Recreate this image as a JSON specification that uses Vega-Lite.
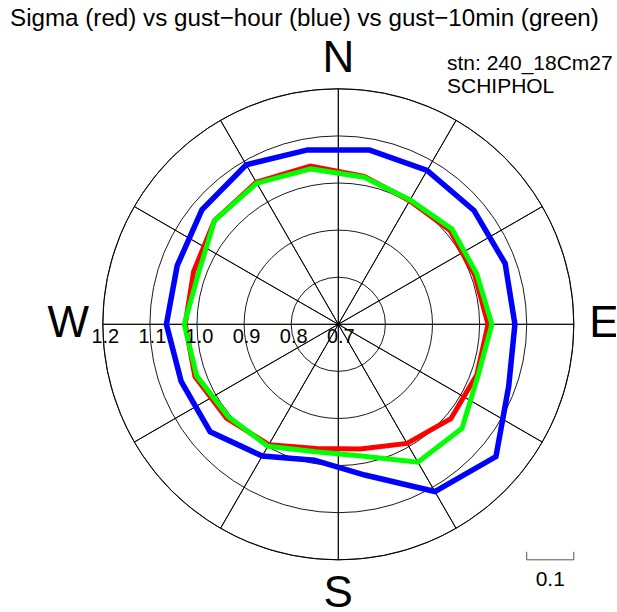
{
  "$schema": "https://vega.github.io/schema/vega-lite/v6.json",
  "width": 556,
  "height": 574,
  "autosize": {"type": "none"},
  "padding": {"left": 60.3, "top": 37.3, "right": 0, "bottom": 0},
  "background": "white",
  "config": {"view": {"stroke": null}, "font": "Liberation Sans"},
  "datasets": {
    "rose": [
      {"dir": 10, "sigma": 1.019, "hour": 1.076, "tenmin": 1.017},
      {"dir": 30, "sigma": 1.003, "hour": 1.077, "tenmin": 1.005},
      {"dir": 50, "sigma": 1.010, "hour": 1.076, "tenmin": 1.015},
      {"dir": 70, "sigma": 1.008, "hour": 1.077, "tenmin": 1.013},
      {"dir": 90, "sigma": 1.018, "hour": 1.075, "tenmin": 1.026},
      {"dir": 110, "sigma": 1.013, "hour": 1.085, "tenmin": 1.016},
      {"dir": 130, "sigma": 1.012, "hour": 1.137, "tenmin": 1.043},
      {"dir": 150, "sigma": 0.992, "hour": 1.110, "tenmin": 1.038},
      {"dir": 170, "sigma": 0.969, "hour": 1.025, "tenmin": 0.984},
      {"dir": 190, "sigma": 0.968, "hour": 0.993, "tenmin": 0.975},
      {"dir": 210, "sigma": 0.995, "hour": 1.023, "tenmin": 0.999},
      {"dir": 230, "sigma": 1.010, "hour": 1.055, "tenmin": 1.005},
      {"dir": 250, "sigma": 1.024, "hour": 1.055, "tenmin": 1.020},
      {"dir": 270, "sigma": 1.025, "hour": 1.065, "tenmin": 1.027},
      {"dir": 290, "sigma": 1.027, "hour": 1.064, "tenmin": 1.016},
      {"dir": 310, "sigma": 1.043, "hour": 1.078, "tenmin": 1.043},
      {"dir": 330, "sigma": 1.048, "hour": 1.091, "tenmin": 1.046},
      {"dir": 350, "sigma": 1.041, "hour": 1.076, "tenmin": 1.035}
    ],
    "rings": [{"r": 0.8}, {"r": 0.9}, {"r": 1.0}, {"r": 1.1}, {"r": 1.2}],
    "ticks": [{"lab": 0.7}, {"lab": 0.8}, {"lab": 0.9}, {"lab": 1.0}, {"lab": 1.1}, {"lab": 1.2}],
    "sectors": [
      {"s": 1, "share": 1}, {"s": 2, "share": 1}, {"s": 3, "share": 1}, {"s": 4, "share": 1},
      {"s": 5, "share": 1}, {"s": 6, "share": 1}, {"s": 7, "share": 1}, {"s": 8, "share": 1},
      {"s": 9, "share": 1}, {"s": 10, "share": 1}, {"s": 11, "share": 1}, {"s": 12, "share": 1}
    ],
    "letters": [{"dir": 0, "lab": "N"}, {"dir": 90, "lab": "E"}, {"dir": 180, "lab": "S"}, {"dir": 270, "lab": "W"}],
    "one": [{}]
  },
  "resolve": {"scale": {"theta": "independent", "radius": "independent"}},
  "layer": [
    {
      "data": {"name": "sectors"},
      "mark": {"type": "arc", "filled": false, "color": "black", "stroke": "black", "strokeWidth": 0.9, "radius": 235.5},
      "encoding": {"theta": {"field": "share", "type": "quantitative"}, "detail": {"field": "s"}}
    },
    {
      "data": {"name": "rings"},
      "mark": {"type": "arc", "filled": false, "color": "black", "stroke": "black", "strokeWidth": 0.9, "theta": 0, "theta2": 6.2832},
      "encoding": {
        "radius": {"field": "r", "type": "quantitative", "stack": null, "scale": {"type": "linear", "domain": [0.7, 1.2], "range": [0, 235.5], "zero": false}}
      }
    },
    {
      "data": {"name": "rose"},
      "transform": [
        {"calculate": "(datum.sigma-0.7)*sin(datum.dir*PI/180)", "as": "px"},
        {"calculate": "(datum.sigma-0.7)*cos(datum.dir*PI/180)", "as": "py"}
      ],
      "mark": {"type": "line", "color": "#ff0000", "strokeWidth": 5, "interpolate": "linear-closed", "strokeJoin": "miter"},
      "encoding": {
        "x": {"field": "px", "type": "quantitative", "scale": {"domain": [-0.59023, 0.59023], "zero": false, "nice": false}, "axis": null},
        "y": {"field": "py", "type": "quantitative", "scale": {"domain": [-0.60934, 0.60934], "zero": false, "nice": false}, "axis": null},
        "order": {"field": "dir"}
      }
    },
    {
      "data": {"name": "rose"},
      "transform": [
        {"calculate": "(datum.tenmin-0.7)*sin(datum.dir*PI/180)", "as": "px"},
        {"calculate": "(datum.tenmin-0.7)*cos(datum.dir*PI/180)", "as": "py"}
      ],
      "mark": {"type": "line", "color": "#00ff00", "strokeWidth": 5, "interpolate": "linear-closed", "strokeJoin": "miter"},
      "encoding": {
        "x": {"field": "px", "type": "quantitative"},
        "y": {"field": "py", "type": "quantitative"},
        "order": {"field": "dir"}
      }
    },
    {
      "data": {"name": "rose"},
      "transform": [
        {"calculate": "(datum.hour-0.7)*sin(datum.dir*PI/180)", "as": "px"},
        {"calculate": "(datum.hour-0.7)*cos(datum.dir*PI/180)", "as": "py"}
      ],
      "mark": {"type": "line", "color": "#0000ff", "strokeWidth": 5.5, "interpolate": "linear-closed", "strokeJoin": "miter"},
      "encoding": {
        "x": {"field": "px", "type": "quantitative"},
        "y": {"field": "py", "type": "quantitative"},
        "order": {"field": "dir"}
      }
    },
    {
      "data": {"name": "ticks"},
      "mark": {"type": "text", "theta": 4.71239, "fontSize": 20, "align": "center", "baseline": "alphabetic", "dy": 19, "dx": 2.5, "color": "black"},
      "encoding": {
        "radius": {"field": "lab", "type": "quantitative", "stack": null, "scale": {"type": "linear", "domain": [0.7, 1.2], "range": [0, 235.5], "zero": false}},
        "text": {"field": "lab", "type": "quantitative", "format": ".1f"}
      }
    },
    {
      "data": {"name": "letters"},
      "transform": [{"filter": "datum.dir < 135"}],
      "mark": {"type": "text", "radius": 265.5, "fontSize": 44, "align": "center", "baseline": "middle", "color": "black"},
      "encoding": {
        "theta": {"field": "dir", "type": "quantitative", "stack": null, "scale": {"type": "linear", "domain": [0, 360], "range": [0, 6.2832], "zero": false}},
        "text": {"field": "lab", "type": "nominal"}
      }
    },
    {
      "data": {"name": "letters"},
      "transform": [{"filter": "datum.dir > 135"}],
      "mark": {"type": "text", "radius": 270, "fontSize": 44, "align": "center", "baseline": "middle", "color": "black"},
      "encoding": {
        "theta": {"field": "dir", "type": "quantitative", "stack": null, "scale": {"type": "linear", "domain": [0, 360], "range": [0, 6.2832], "zero": false}},
        "text": {"field": "lab", "type": "nominal"}
      }
    },
    {
      "data": {"name": "one"},
      "mark": {"type": "text", "align": "left", "baseline": "alphabetic", "fontSize": 24.2, "color": "black", "text": "Sigma (red) vs gust−hour (blue) vs gust−10min (green)"},
      "encoding": {
        "x": {"datum": -0.697, "type": "quantitative"},
        "y": {"datum": 0.6333, "type": "quantitative"}
      }
    },
    {
      "data": {"name": "one"},
      "mark": {"type": "text", "align": "left", "baseline": "alphabetic", "fontSize": 21, "lineHeight": 23, "color": "black", "text": ["stn: 240_18Cm27", "SCHIPHOL"]},
      "encoding": {
        "x": {"datum": 0.2308, "type": "quantitative"},
        "y": {"datum": 0.540, "type": "quantitative"}
      }
    },
    {
      "data": {"name": "one"},
      "mark": {"type": "rule", "color": "#555555", "strokeWidth": 1},
      "encoding": {
        "x": {"datum": 0.4, "type": "quantitative"},
        "x2": {"datum": 0.5},
        "y": {"datum": -0.5, "type": "quantitative"}
      }
    },
    {
      "data": {"name": "one"},
      "mark": {"type": "rule", "color": "#555555", "strokeWidth": 1},
      "encoding": {
        "x": {"datum": 0.4, "type": "quantitative"},
        "y": {"datum": -0.5, "type": "quantitative"},
        "y2": {"datum": -0.483}
      }
    },
    {
      "data": {"name": "one"},
      "mark": {"type": "rule", "color": "#555555", "strokeWidth": 1},
      "encoding": {
        "x": {"datum": 0.5, "type": "quantitative"},
        "y": {"datum": -0.5, "type": "quantitative"},
        "y2": {"datum": -0.483}
      }
    },
    {
      "data": {"name": "one"},
      "mark": {"type": "text", "align": "center", "baseline": "alphabetic", "fontSize": 21, "dy": 26, "color": "black", "text": "0.1"},
      "encoding": {
        "x": {"datum": 0.45, "type": "quantitative"},
        "y": {"datum": -0.5, "type": "quantitative"}
      }
    }
  ]
}
